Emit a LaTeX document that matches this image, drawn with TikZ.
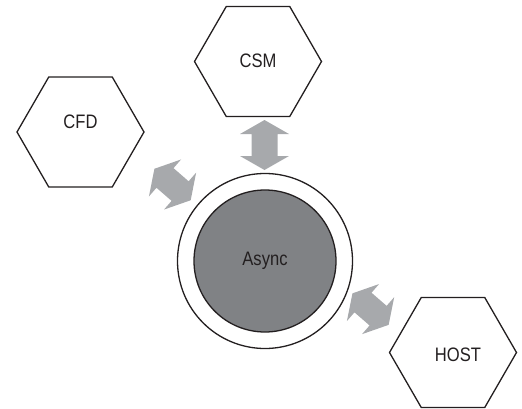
\documentclass[tikz,border=0pt]{standalone}
\usepackage{fontspec}
\setmainfont{Liberation Sans}
\newfontfamily\lblfont{Liberation Sans}[FakeStretch=0.85]
\usetikzlibrary{shapes.geometric,calc}

\definecolor{inkline}{HTML}{231F20}
\definecolor{arrowgray}{HTML}{A7A9AC}
\definecolor{coregray}{HTML}{808285}

\tikzset{
  hexbox/.style={regular polygon, regular polygon sides=6, minimum size=127pt,
    inner sep=0pt, draw=inkline, line width=1.3pt, fill=white},
  lbl/.style={inner sep=0pt, text=inkline, font=\lblfont\fontsize{19.5}{22}\selectfont},
  ringbox/.style={circle, draw=inkline, line width=1.3pt, fill=white,
    minimum size=175pt, inner sep=0pt},
  corebox/.style={circle, draw=inkline, line width=1.3pt, fill=coregray,
    minimum size=142pt, inner sep=0pt, text=inkline,
    font=\lblfont\fontsize{19.5}{22}\selectfont},
  % block double arrow of length #1, heads 14 long and 49 wide, shaft 26 wide
  pics/dblarrow/.style={code={
    \fill[arrowgray] (-#1/2,0) -- (-#1/2+14,24.5) -- (-#1/2+14,13)
      -- (#1/2-14,13) -- (#1/2-14,24.5) -- (#1/2,0) -- (#1/2-14,-24.5)
      -- (#1/2-14,-13) -- (-#1/2+14,-13) -- (-#1/2+14,-24.5) -- cycle;
  }}
}

\begin{document}
\begin{tikzpicture}[x=1pt,y=1pt]
  \useasboundingbox (0,0) rectangle (522,-409);

  % the three partner systems
  \node[hexbox] (cfd)  at (80.5,-132) {};
  \node[hexbox] (csm)  at (258,-61.5) {};
  \node[hexbox] (host) at (453,-352.5) {};
  \node[lbl] (cfdtext)  at ([yshift=10]cfd.center) {CFD};
  \node[lbl] (csmtext)  at ([yshift=1]csm.center) {CSM};
  \node[lbl] (hosttext) at ([xshift=5,yshift=-2]host.center) {HOST};

  % central engine: white ring around a grey core
  \node[ringbox] (ring) at (265,-261) {};
  \node[corebox] (async) at (ring.center) {Async};

  % two-way links between the engine and each system
  \coordinate (csmlink)  at ($(csm.south)!0.5!(ring.north)$);
  \coordinate (cfdlink)  at ($(ring.center)+(140.4:120)$);
  \coordinate (hostlink) at ($(ring.center)+(-24.5:116)$);
  \pic[rotate=90]  at ([xshift=3]csmlink) {dblarrow=50};
  \pic[rotate=-41] at (cfdlink)  {dblarrow=48};
  \pic[rotate=-41] at (hostlink) {dblarrow=48};
\end{tikzpicture}
\end{document}
